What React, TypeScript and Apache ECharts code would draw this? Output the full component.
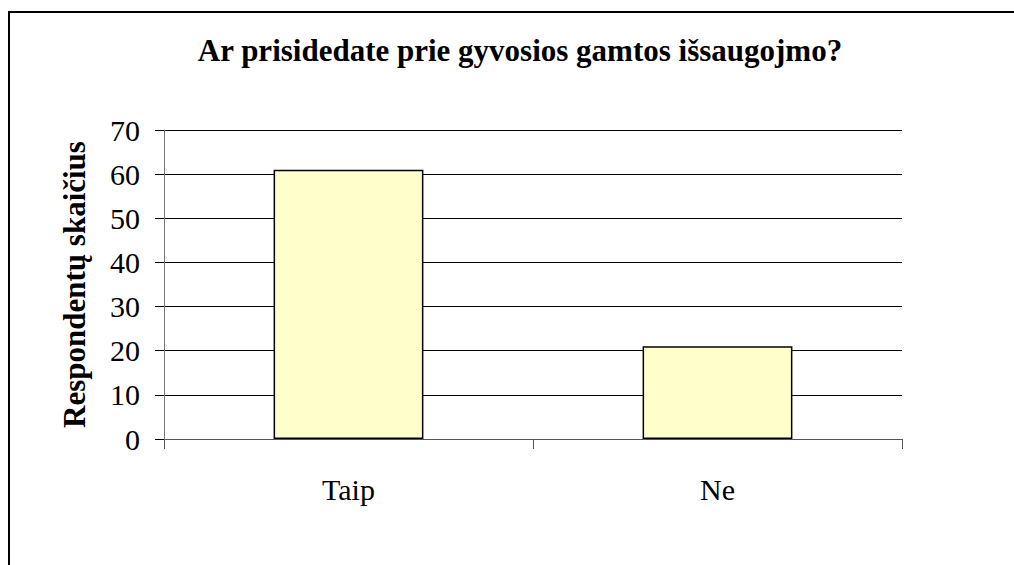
import React, { useEffect, useRef } from "react";
import * as echarts from "echarts";

const categories = ["Taip", "Ne"];
const values = [61, 21];
const titleText = "Ar prisidedate prie gyvosios gamtos išsaugojmo?";
const yAxisName = "Respondentų skaičius";

export default function App() {
  const ref = useRef<HTMLDivElement>(null);
  useEffect(() => {
    if (!ref.current) return;
    const chart = echarts.init(ref.current, null, { renderer: "svg" });
    const font = "Liberation Serif";
    chart.setOption({
      animation: false,
      backgroundColor: "#ffffff",
      textStyle: { fontFamily: font },
      title: {
        text: titleText,
        left: 515,
        textAlign: "center",
        top: 30,
        textStyle: { fontFamily: font, fontSize: 31, fontWeight: "bold", color: "#000" },
      },
      graphic: [
        {
          type: "rect",
          shape: { x: 9, y: 12, width: 1100, height: 600 },
          style: { fill: "none", stroke: "#000", lineWidth: 2 },
          silent: true,
        },
      ],
      grid: { left: 164, right: 112, top: 130, bottom: 126 },
      xAxis: {
        type: "category",
        data: categories,
        axisLine: { lineStyle: { color: "#555", width: 1 } },
        axisTick: { show: true, length: 10, lineStyle: { color: "#555" } },
        axisLabel: { fontFamily: font, fontSize: 30, color: "#000", margin: 35 },
      },
      yAxis: {
        type: "value",
        min: 0,
        max: 70,
        interval: 10,
        name: yAxisName,
        nameLocation: "middle",
        nameGap: 74,
        nameTextStyle: { fontFamily: font, fontSize: 31, fontWeight: "bold", color: "#000" },
        axisLine: { show: true, lineStyle: { color: "#777", width: 1 } },
        axisTick: { show: true, length: 9, lineStyle: { color: "#000" } },
        axisLabel: { fontFamily: font, fontSize: 30, color: "#000", margin: 24 },
        splitLine: { show: true, lineStyle: { color: "#000", width: 1 } },
      },
      series: [
        {
          type: "bar",
          data: values,
          barWidth: "40.6%",
          itemStyle: { color: "#FFFFCC", borderColor: "#000", borderWidth: 1.5 },
        },
      ],
    });
    return () => chart.dispose();
  }, []);
  return (
    <div
      ref={ref}
      style={{ position: "absolute", left: 0, top: 0, width: 1014, height: 565 }}
    />
  );
}
